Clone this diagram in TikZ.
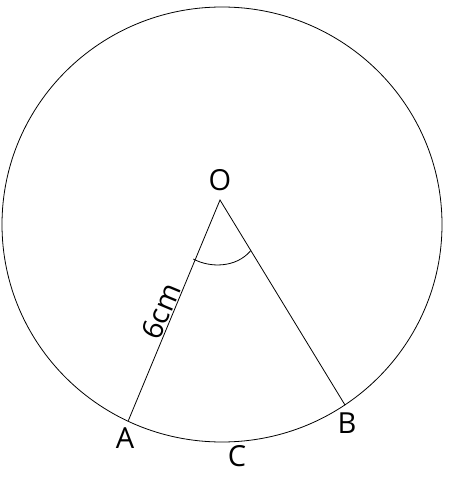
\documentclass[tikz,border=0pt]{standalone}
\usepackage{fontspec}
\setmainfont{Open Sans}
\begin{document}
\begin{tikzpicture}[x=1pt,y=-1pt,
  lbl/.style={inner sep=0pt,font=\fontsize{29}{32}\selectfont},
  ln/.style={line width=0.8pt}]
\useasboundingbox (0,0) rectangle (448,489);
\draw[ln] (222,224.5) ellipse [x radius=220, y radius=217.5];
\coordinate (Ov) at (220,200);
\coordinate (Ap) at (128.3,420.7);
\coordinate (Bp) at (345,405);
\draw[ln] (Ap) -- (Ov) -- (Bp);
\draw[ln] (193.3,259) .. controls (210,268) and (236,268) .. (250.7,250.7);
\node[lbl] (O) at (220,180) {O};
\node[lbl] (A) at (125,438) {A};
\node[lbl] (B) at (347,423) {B};
\node[lbl] (C) at (237,456) {C};
\node[lbl,rotate=67.4] (L) at (161,311) {6cm};
\end{tikzpicture}
\end{document}
